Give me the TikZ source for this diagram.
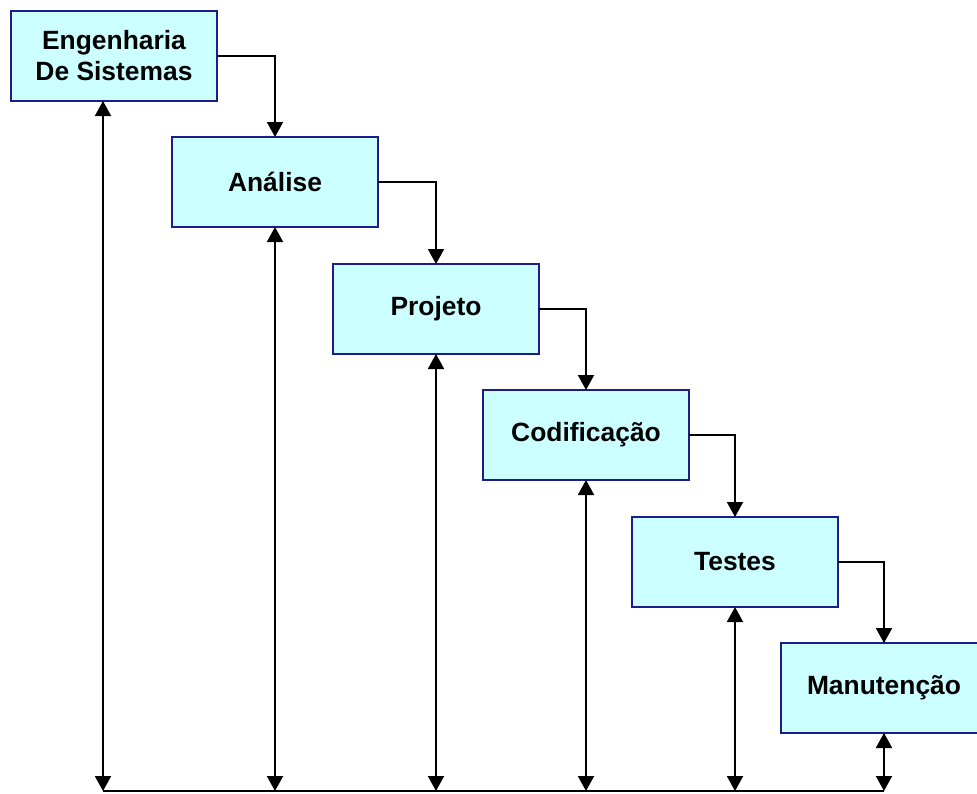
\documentclass[tikz,border=0pt]{standalone}
\usepackage{fontspec}
\setmainfont{Liberation Sans}
\usetikzlibrary{arrows.meta}
\definecolor{boxfill}{HTML}{CCFFFF}
\definecolor{boxline}{HTML}{1C1C8A}
\begin{document}
\begin{tikzpicture}[x=1pt,y=-1pt,
  stage/.style={draw=boxline, fill=boxfill, line width=2pt,
    minimum width=206pt, minimum height=90pt, inner sep=0pt, outer sep=0pt,
    font=\fontsize{26.4}{31}\selectfont\bfseries, align=center},
  tip/.tip={Triangle[length=15pt,width=16pt]},
  flow/.style={line width=2pt, -tip},
  link/.style={line width=2pt, tip-tip},
  base/.style={line width=2pt}]
\clip (0,0) rectangle (977,793);

% stages of the waterfall
\node[stage] (s1) at (114,56)  {Engenharia\\De Sistemas};
\node[stage] (s2) at (275,182) {Análise};
\node[stage] (s3) at (436,309) {Projeto};
\node[stage] (s4) at (586,435) {Codificação};
\node[stage] (s5) at (735,562) {Testes};
\node[stage] (s6) at (884,688) {Manutenção};

% cascade from one stage to the next
\draw[flow] (s1.east) -| (s2.north);
\draw[flow] (s2.east) -| (s3.north);
\draw[flow] (s3.east) -| (s4.north);
\draw[flow] (s4.east) -| (s5.north);
\draw[flow] (s5.east) -| (s6.north);

% feedback bus along the bottom
\coordinate (b1) at (103,791);
\coordinate (b2) at (275,791);
\coordinate (b3) at (436,791);
\coordinate (b4) at (586,791);
\coordinate (b5) at (735,791);
\coordinate (b6) at (884,791);
\draw[base] (b1) -- (b6);

\draw[link] (b1 |- s1.south) -- (b1);
\draw[link] (s2.south) -- (b2);
\draw[link] (s3.south) -- (b3);
\draw[link] (s4.south) -- (b4);
\draw[link] (s5.south) -- (b5);
\draw[link] (s6.south) -- (b6);
\end{tikzpicture}
\end{document}
